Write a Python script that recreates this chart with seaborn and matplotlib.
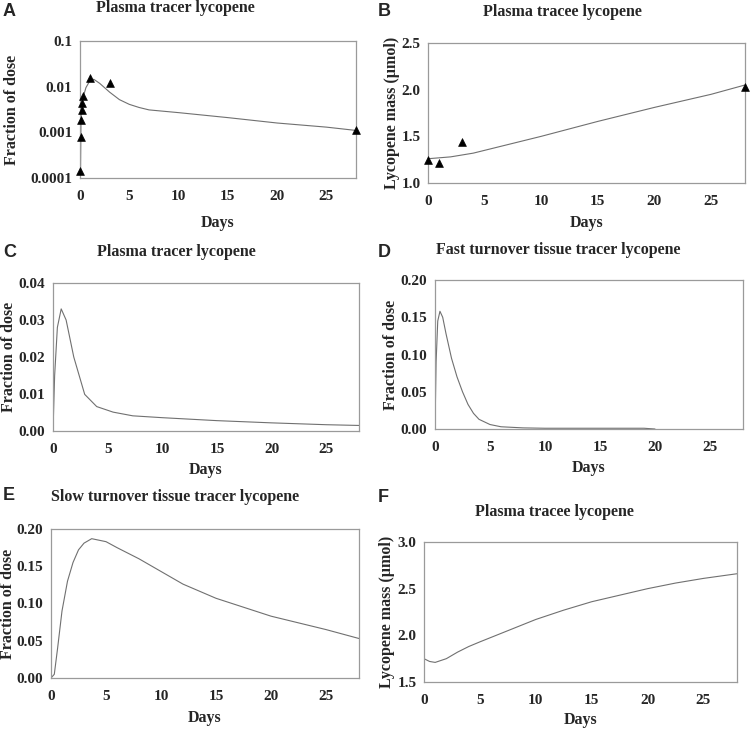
import numpy as np
import pandas as pd
import seaborn as sns
import matplotlib.pyplot as plt
from matplotlib.ticker import MultipleLocator, FixedLocator, FixedFormatter, NullFormatter

# panel A: plasma tracer (log), observed points + model
a_obs_days = [0.05, 0.1, 0.15, 0.2, 0.25, 0.35, 1.0, 3.0, 28.0]
a_obs_frac = [0.00014, 0.0008, 0.0019, 0.0031, 0.0045, 0.0062, 0.0155, 0.0122, 0.00115]
a_fit_days = [0.05, 0.1, 0.2, 0.35, 0.6, 1.0, 1.4, 2.0, 3.0, 4.0, 5.0, 6.0, 7.0, 10.0, 15.0, 20.0, 25.0, 28.0]
a_fit_frac = [0.00012, 0.002, 0.0045, 0.0062, 0.0095, 0.0135, 0.0145, 0.0118, 0.0076, 0.0052, 0.0041, 0.0035, 0.0031, 0.0027, 0.0021, 0.0016, 0.0013, 0.0011]

# panel B: plasma tracee mass
b_obs_days = [0.0, 1.0, 3.0, 28.0]
b_obs_mass = [1.25, 1.21, 1.44, 2.03]
b_fit_days = [0, 2, 4, 6, 8, 10, 15, 20, 25, 28]
b_fit_mass = [1.26, 1.28, 1.32, 1.38, 1.44, 1.50, 1.66, 1.81, 1.95, 2.05]

# panel C: plasma tracer (linear)
c_days = [0, 0.15, 0.4, 0.75, 1.2, 1.9, 2.9, 4.0, 5.5, 7.3, 10, 15, 20, 25, 28]
c_frac = [0, 0.015, 0.028, 0.033, 0.030, 0.020, 0.0099, 0.0066, 0.0051, 0.0041, 0.0036, 0.0028, 0.0022, 0.0017, 0.0015]

# panel D: fast turnover tissue tracer
d_days = [0, 0.1, 0.25, 0.45, 0.7, 1.0, 1.5, 2.0, 2.5, 3.0, 3.5, 4.0, 5.0, 6.0, 8.0, 10, 15, 19, 20]
d_frac = [0, 0.09, 0.145, 0.158, 0.15, 0.128, 0.095, 0.07, 0.05, 0.033, 0.021, 0.013, 0.006, 0.003, 0.0015, 0.001, 0.001, 0.001, 0]

# panel E: slow turnover tissue tracer
e_days = [0, 0.3, 0.6, 1.0, 1.5, 2.0, 2.5, 3.0, 3.7, 5, 6, 8, 10, 12, 15, 20, 25, 28]
e_frac = [0, 0.005, 0.04, 0.09, 0.13, 0.155, 0.172, 0.181, 0.187, 0.183, 0.175, 0.16, 0.143, 0.126, 0.107, 0.083, 0.065, 0.053]

# panel F: plasma tracee mass (model)
f_days = [0, 0.5, 1, 2, 3, 4, 5, 7.5, 10, 12.5, 15, 17.5, 20, 22.5, 25, 28]
f_mass = [1.75, 1.72, 1.71, 1.75, 1.82, 1.88, 1.93, 2.05, 2.17, 2.27, 2.36, 2.43, 2.50, 2.56, 2.61, 2.66]

sns.set_style("white")
plt.rcParams['font.family'] = 'serif'
plt.rcParams['font.serif'] = ['Liberation Serif', 'DejaVu Serif']
plt.rcParams['font.weight'] = 'bold'

W, H = 750, 729
fig = plt.figure(figsize=(7.5, 7.29), dpi=100)

def box(l, r, t, b):
    return [l / W, 1 - b / H, (r - l) / W, (b - t) / H]

line_kw = dict(color='#707070', linewidth=0.8)
frame = '#9a9a9a'
tri_kw = dict(marker='^', color='black', s=32, edgecolor='black', clip_on=False, zorder=5)

def style(ax, ylab, pos, ylab_x, xlab_y):
    l, r, t, b = pos
    for s in ax.spines.values():
        s.set_color(frame)
        s.set_linewidth(0.9)
    ax.set_xlim(0, 28)
    ax.xaxis.set_major_locator(MultipleLocator(5))
    ax.xaxis.set_minor_locator(MultipleLocator(2.5))
    ax.tick_params(which='both', direction='inout', color=frame, labelsize=11, pad=3)
    ax.tick_params(axis='x', which='both', pad=6)
    ax.tick_params(which='major', length=5)
    ax.tick_params(which='minor', length=4)
    ax.set_xlabel('Days', fontsize=11.5, fontweight='bold')
    ax.set_ylabel(ylab, fontsize=11.5, fontweight='bold')
    # place axis labels in figure pixels
    ax.yaxis.set_label_coords((ylab_x - l) / (r - l), 0.5)
    ax.xaxis.set_label_coords(0.5, (b - xlab_y) / (b - t))
    ax.xaxis.label.set_va('center')
    ax.yaxis.label.set_va('center')
    for t_ in ax.get_xticklabels() + ax.get_yticklabels():
        t_.set_fontweight('bold')

def label(x, y, letter, title, tx, ty):
    fig.text(x / W, 1 - y / H, letter, fontsize=13, fontweight='bold',
             family='Liberation Sans', ha='left', va='center')
    fig.text(tx / W, 1 - ty / H, title, fontsize=11.5, fontweight='bold',
             ha='center', va='center')

# A
pos = (80, 356, 41, 178)
ax = fig.add_axes(box(*pos))
sns.lineplot(x=a_fit_days, y=a_fit_frac, ax=ax, **line_kw)
sns.scatterplot(x=a_obs_days, y=a_obs_frac, ax=ax, **tri_kw)
ax.set_yscale('log')
ax.set_ylim(0.0001, 0.1)
ax.yaxis.set_major_locator(FixedLocator([0.0001, 0.001, 0.01, 0.1]))
ax.yaxis.set_major_formatter(FixedFormatter(['0.0001', '0.001', '0.01', '0.1']))
ax.yaxis.set_minor_formatter(NullFormatter())
style(ax, 'Fraction of dose', pos, 12, 223)
label(3, 12, 'A', 'Plasma tracer lycopene', 175, 8)

# B
pos = (428, 745, 43, 183)
ax = fig.add_axes(box(*pos))
sns.lineplot(x=b_fit_days, y=b_fit_mass, ax=ax, **line_kw)
sns.scatterplot(x=b_obs_days, y=b_obs_mass, ax=ax, **tri_kw)
ax.set_ylim(1.0, 2.5)
ax.yaxis.set_major_locator(MultipleLocator(0.5))
ax.yaxis.set_minor_locator(MultipleLocator(0.25))
ax.yaxis.set_major_formatter(plt.FormatStrFormatter('%.1f'))
style(ax, 'Lycopene mass (\u00b5mol)', pos, 392, 223)
label(378, 11, 'B', 'Plasma tracee lycopene', 562, 12)

# C
pos = (53, 359, 283, 431)
ax = fig.add_axes(box(*pos))
sns.lineplot(x=c_days, y=c_frac, ax=ax, **line_kw)
ax.set_ylim(0, 0.04)
ax.yaxis.set_major_locator(MultipleLocator(0.01))
ax.yaxis.set_minor_locator(MultipleLocator(0.005))
ax.yaxis.set_major_formatter(plt.FormatStrFormatter('%.2f'))
style(ax, 'Fraction of dose', pos, 9, 470)
label(3, 253, 'C', 'Plasma tracer lycopene', 176, 252)

# D
pos = (435, 743, 280, 429)
ax = fig.add_axes(box(*pos))
sns.lineplot(x=d_days, y=d_frac, ax=ax, **line_kw)
ax.set_ylim(0, 0.2)
ax.yaxis.set_major_locator(MultipleLocator(0.05))
ax.yaxis.set_minor_locator(MultipleLocator(0.025))
ax.yaxis.set_major_formatter(plt.FormatStrFormatter('%.2f'))
style(ax, 'Fraction of dose', pos, 391, 468)
label(378, 253, 'D', 'Fast turnover tissue tracer lycopene', 558, 250)

# E
pos = (51, 359, 529, 678)
ax = fig.add_axes(box(*pos))
sns.lineplot(x=e_days, y=e_frac, ax=ax, **line_kw)
ax.set_ylim(0, 0.2)
ax.yaxis.set_major_locator(MultipleLocator(0.05))
ax.yaxis.set_minor_locator(MultipleLocator(0.025))
ax.yaxis.set_major_formatter(plt.FormatStrFormatter('%.2f'))
style(ax, 'Fraction of dose', pos, 8, 718)
label(3, 496, 'E', 'Slow turnover tissue tracer lycopene', 175, 497)

# F
pos = (424, 737, 542, 682)
ax = fig.add_axes(box(*pos))
sns.lineplot(x=f_days, y=f_mass, ax=ax, **line_kw)
ax.set_ylim(1.5, 3.0)
ax.yaxis.set_major_locator(MultipleLocator(0.5))
ax.yaxis.set_minor_locator(MultipleLocator(0.25))
ax.yaxis.set_major_formatter(plt.FormatStrFormatter('%.1f'))
style(ax, 'Lycopene mass (\u00b5mol)', pos, 387, 720)
label(378, 497, 'F', 'Plasma tracee lycopene', 554, 512)

fig.savefig('out.png', dpi=100)
